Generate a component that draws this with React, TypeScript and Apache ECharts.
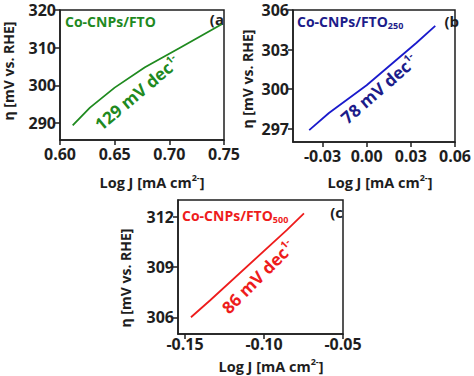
import React, { useEffect, useRef } from "react";
import * as echarts from "echarts";

// Panel (a) Co-CNPs/FTO
const aX = [0.6116, 0.6274, 0.65, 0.6777, 0.7098, 0.7479];
const aY = [289.4, 294.1, 299.4, 304.8, 310.0, 316.2];
const aXTicks = [0.6, 0.65, 0.7, 0.75];
const aYTicks = [290, 300, 310, 320];

// Panel (b) Co-CNPs/FTO250
const bX = [-0.039, -0.0256, 0.0, 0.0337, 0.0466];
const bY = [296.9, 298.2, 300.3, 303.5, 304.8];
const bXTicks = [-0.03, 0.0, 0.03, 0.06];
const bYTicks = [297, 300, 303, 306];

// Panel (c) Co-CNPs/FTO500
const cX = [-0.1462, -0.1342, -0.0856, -0.0747];
const cY = [306.0, 307.0, 311.2, 312.2];
const cXTicks = [-0.15, -0.1, -0.05];
const cYTicks = [306, 309, 312];

const FONT = "'Open Sans', sans-serif";
const INK = "#1e1e1e";
const GREEN = "#1f8a1f";
const BLUE = "#1a1acc";
const NAVY = "#1c1c8a";
const RED = "#ee1c1c";

const pairs = (xs: number[], ys: number[]) => xs.map((x, i) => [x, ys[i]]);

function xAxisCfg(grid: number, min: number, max: number, ticks: number[], margin: number) {
  return {
    gridIndex: grid,
    type: "value",
    min,
    max,
    splitLine: { show: false },
    axisLine: { show: true, onZero: false, lineStyle: { color: INK, width: 1.5 } },
    axisTick: { show: true, length: 5, customValues: ticks, lineStyle: { color: INK, width: 1.5 } },
    axisLabel: {
      customValues: ticks,
      formatter: (v: number) => v.toFixed(2),
      color: INK,
      fontFamily: FONT,
      fontWeight: "bold",
      fontSize: 16,
      margin,
    },
  };
}

function yAxisCfg(grid: number, min: number, max: number, ticks: number[]) {
  return {
    gridIndex: grid,
    type: "value",
    min,
    max,
    splitLine: { show: false },
    axisLine: { show: true, onZero: false, lineStyle: { color: INK, width: 1.5 } },
    axisTick: { show: true, length: 5, customValues: ticks, lineStyle: { color: INK, width: 1.5 } },
    axisLabel: {
      customValues: ticks,
      formatter: (v: number) => String(Math.round(v)),
      color: INK,
      fontFamily: FONT,
      fontWeight: "bold",
      fontSize: 16,
      lineHeight: 16,
      margin: 4,
    },
  };
}

function yName(x: number, y: number) {
  return {
    type: "text",
    x,
    y,
    rotation: Math.PI / 2,
    style: {
      text: "η [mV vs. RHE]",
      fill: INK,
      font: `bold 14px ${FONT}`,
      align: "center",
      verticalAlign: "middle",
    },
  };
}

function xName(x: number, y: number) {
  return {
    type: "text",
    x,
    y,
    style: {
      text: "{m|Log J [mA cm}{s|2-}{m|]}",
      align: "center",
      verticalAlign: "middle",
      rich: {
        m: { fill: INK, fontFamily: FONT, fontWeight: "bold", fontSize: 14.5, lineHeight: 18 },
        s: { fill: INK, fontFamily: FONT, fontWeight: "bold", fontSize: 9, lineHeight: 18, verticalAlign: "top" },
      },
    },
  };
}

function title(x: number, y: number, main: string, sub: string, color: string) {
  return {
    type: "text",
    x,
    y,
    style: {
      text: sub ? `{m|${main}}{s|${sub}}` : `{m|${main}}`,
      align: "left",
      verticalAlign: "middle",
      rich: {
        m: { fill: color, fontFamily: FONT, fontWeight: "bold", fontSize: 14, lineHeight: 18 },
        s: { fill: color, fontFamily: FONT, fontWeight: "bold", fontSize: 9, lineHeight: 18, verticalAlign: "bottom" },
      },
    },
  };
}

function letter(x: number, y: number, t: string) {
  return {
    type: "text",
    x,
    y,
    style: { text: t, fill: INK, font: `bold 15px ${FONT}`, align: "right", verticalAlign: "middle" },
  };
}

function slope(x: number, y: number, deg: number, val: string, color: string) {
  return {
    type: "text",
    x,
    y,
    rotation: (deg * Math.PI) / 180,
    style: {
      text: `{m|${val} mV dec}{s|1-}`,
      align: "center",
      verticalAlign: "middle",
      rich: {
        m: { fill: color, fontFamily: FONT, fontWeight: "bold", fontSize: 17, lineHeight: 20 },
        s: { fill: color, fontFamily: FONT, fontWeight: "bold", fontSize: 10, lineHeight: 20, verticalAlign: "top" },
      },
    },
  };
}

export default function App() {
  const ref = useRef<HTMLDivElement>(null);
  useEffect(() => {
    if (!ref.current) return;
    const chart = echarts.init(ref.current, null, { renderer: "svg" });
    const gridBase = { show: true, borderColor: INK, borderWidth: 1.5, containLabel: false };
    chart.setOption({
      animation: false,
      backgroundColor: "#ffffff",
      grid: [
        { ...gridBase, left: 60, top: 10, width: 164, height: 130 },
        { ...gridBase, left: 293, top: 10, width: 167, height: 132 },
        { ...gridBase, left: 178, top: 200, width: 165, height: 134 },
      ],
      xAxis: [
        xAxisCfg(0, 0.6, 0.75, aXTicks, 6),
        xAxisCfg(1, -0.05, 0.06, bXTicks, 6),
        xAxisCfg(2, -0.1544, -0.05, cXTicks, 2),
      ],
      yAxis: [
        yAxisCfg(0, 285.5, 320, aYTicks),
        yAxisCfg(1, 296, 306, bYTicks),
        yAxisCfg(2, 305, 313, cYTicks),
      ],
      series: [
        {
          type: "line",
          xAxisIndex: 0,
          yAxisIndex: 0,
          data: pairs(aX, aY),
          showSymbol: false,
          lineStyle: { color: GREEN, width: 1.8 },
        },
        {
          type: "line",
          xAxisIndex: 1,
          yAxisIndex: 1,
          data: pairs(bX, bY),
          showSymbol: false,
          lineStyle: { color: BLUE, width: 1.8 },
        },
        {
          type: "line",
          xAxisIndex: 2,
          yAxisIndex: 2,
          data: pairs(cX, cY),
          showSymbol: false,
          lineStyle: { color: RED, width: 1.8 },
        },
      ],
      graphic: [
        yName(8, 71),
        yName(247, 79),
        yName(125, 278),
        xName(152, 182),
        xName(380, 182),
        xName(271, 366),
        title(65, 21, "Co-CNPs/FTO", "", GREEN),
        title(297, 21, "Co-CNPs/FTO", "250", NAVY),
        title(182, 215, "Co-CNPs/FTO", "500", RED),
        letter(224, 19, "(a"),
        letter(459, 21, "(b"),
        letter(343, 212, "(c"),
        slope(137, 93, 40, "129", GREEN),
        slope(379, 89, 41, "78", NAVY),
        slope(258, 277, 45, "86", RED),
      ],
    });
    return () => chart.dispose();
  }, []);
  return <div ref={ref} style={{ position: "fixed", left: 0, top: 0, width: 474, height: 376 }} />;
}
